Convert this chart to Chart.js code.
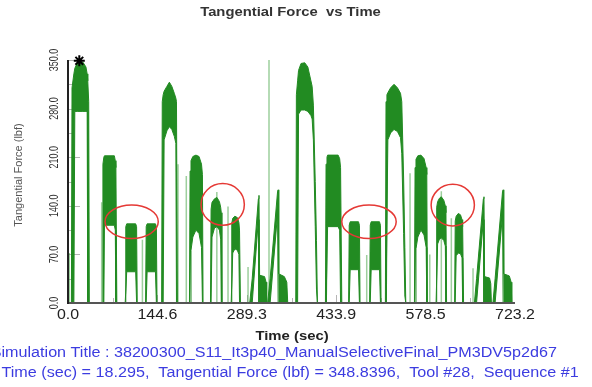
<!DOCTYPE html>
<html>
<head>
<meta charset="utf-8">
<script src="https://cdn.jsdelivr.net/npm/chart.js@4.4.1/dist/chart.umd.min.js"></script>
<style>
  html, body { margin: 0; padding: 0; background: #fff; }
  #wrap { width: 592px; height: 387px; position: relative; }
</style>
</head>
<body>
<div id="wrap"><canvas id="forceChart"></canvas></div>
<script>
// time (sec) of each envelope point, one line per burst
const sigTime = [
  0,
  5.5, 6.5, 9.5, 11, 15, 24, 29, 31, 32, 33.5, 34.5,
  55.5, 56.5, 58, 59, 75, 76.5, 77.5, 79,
  92.5, 93.5, 95, 109.5, 111, 112,
  125.5, 126.5, 128, 141.5, 143, 144,
  151.5, 152.5, 154, 155.5, 160, 164, 168, 172, 174.5, 175.5, 177,
  196.5, 197.5, 199, 202, 207, 212, 216, 217.5, 218.5,
  230.5, 231.5, 233, 237, 241, 245, 247, 248, 249,
  264, 265, 266.5, 270, 274, 276.5, 277.5, 279,
  294, 298, 308, 309, 310, 318, 320.5, 321.5,
  323, 327, 339, 340, 341, 350, 354, 355.5,
  368.5, 369.5, 371.5, 373, 377, 383, 388, 393, 395, 397, 400, 402, 403.5,
  416.5, 417.5, 419, 420, 437, 439.5, 441, 443,
  454, 455, 456.5, 470, 471.5, 472.5,
  488, 489, 490.5, 504, 505.5, 506.5,
  513.5, 514.5, 516, 517.5, 522, 527.5, 533, 538, 540, 543, 545, 546.5,
  560.5, 561.5, 563, 566, 571, 576, 579.5, 580.5, 581.5,
  595.5, 596.5, 598, 601, 604, 608, 610.5, 611.5, 612.5,
  625.5, 626.5, 628, 631.5, 635, 637.5, 638.5, 640,
  657.5, 661, 672, 673, 674, 682, 684, 685,
  687.5, 691, 703, 704, 705, 714, 717, 718
];
// upper envelope of tangential force (lbf)
const sigHigh = [
  0,
  0, 310, 330, 338, 346, 347, 340, 330, 320, 290, 0,
  0, 200, 210, 212, 212, 205, 195, 0,
  0, 110, 114, 114, 110, 0,
  0, 110, 114, 114, 110, 0,
  0, 290, 300, 305, 312, 318, 312, 302, 295, 290, 0,
  0, 190, 205, 211, 213, 211, 200, 185, 0,
  0, 135, 145, 150, 152, 146, 138, 130, 0,
  0, 115, 122, 125, 123, 116, 105, 0,
  0, 35, 150, 155, 40, 38, 30, 0,
  0, 35, 160, 163, 42, 38, 30, 0,
  0, 300, 320, 335, 345, 346, 340, 320, 312, 285, 175, 90, 0,
  0, 200, 210, 213, 213, 208, 195, 0,
  0, 112, 117, 117, 112, 0,
  0, 112, 117, 117, 112, 0,
  0, 290, 300, 303, 310, 315, 310, 302, 290, 180, 80, 0,
  0, 195, 207, 212, 213, 208, 195, 185, 0,
  0, 138, 146, 151, 153, 148, 140, 130, 0,
  0, 118, 125, 129, 127, 120, 110, 0,
  0, 35, 150, 153, 38, 36, 28, 0,
  0, 35, 160, 163, 42, 39, 30, 0
];
// lower envelope of tangential force (lbf)
const sigLow = [
  0,
  0, 0, 0, 276, 276, 276, 276, 276, 0, 0, 0,
  0, 0, 0, 112, 112, 105, 0, 0,
  0, 0, 45, 45, 0, 0,
  0, 0, 45, 45, 0, 0,
  0, 0, 0, 235, 248, 254, 250, 240, 230, 0, 0,
  0, 0, 76, 95, 105, 100, 80, 0, 0,
  0, 0, 95, 108, 110, 105, 92, 0, 0,
  0, 0, 72, 78, 76, 70, 0, 0,
  0, 0, 120, 0, 0, 0, 0, 0,
  0, 0, 128, 0, 0, 0, 0, 0,
  0, 0, 0, 272, 278, 278, 276, 270, 265, 235, 110, 20, 0,
  0, 0, 0, 110, 110, 105, 0, 0,
  0, 0, 48, 48, 0, 0,
  0, 0, 48, 48, 0, 0,
  0, 0, 0, 235, 245, 250, 247, 238, 215, 100, 10, 0,
  0, 0, 78, 95, 105, 98, 80, 0, 0,
  0, 0, 85, 92, 94, 90, 82, 0, 0,
  0, 0, 68, 72, 71, 65, 0, 0,
  0, 0, 120, 0, 0, 0, 0, 0,
  0, 0, 128, 0, 0, 0, 0, 0
];

// isolated faint spikes
const spikeTime = [2, 54.5, 120.4, 178, 191.4, 240.8, 258.9, 291.3, 325.2, 483.3, 553.4, 585.3, 604, 620.2, 655.3];
const spikeForce = [72, 145, 91, 200, 183, 160, 139, 52, 350, 69, 187, 70, 161, 122, 50];

// cursor marker
const markerTime = [18.295];
const markerForce = [348.8396];

// red highlight ellipses: centre and half sizes in data units
const ringTime = [103, 250.3, 487, 622.5];
const ringForce = [117, 142, 117, 141];
const ringHalfTime = [43, 35, 44, 35];
const ringHalfForce = [24, 30, 24, 30];

const xTickValues = [0, 144.6, 289.3, 433.9, 578.5, 723.2];
const xTickLabels = ['0.0', '144.6', '289.3', '433.9', '578.5', '723.2'];
const yTickValues = [0, 70, 140, 210, 280, 350];
const yTickLabels = ['0.0', '70.0', '140.0', '210.0', '280.0', '350.0'];

const chartTitle = 'Tangential Force  vs Time';
const xTitle = 'Time (sec)';
const yTitle = 'Tangential Force (lbf)';
const infoLine1 = 'Simulation Title : 38200300_S11_It3p40_ManualSelectiveFinal_PM3DV5p2d67';
const infoLine2 = 'Time (sec) = 18.295,  Tangential Force (lbf) = 348.8396,  Tool #28,  Sequence #1';

const green = 'rgb(34, 139, 34)';
const lightGreen = 'rgba(60, 160, 60, 0.5)';
const blue = '#3c3ce0';
const FONT = '"Liberation Sans", Arial, sans-serif';

const highPts = sigTime.map((t, i) => ({ x: t, y: sigHigh[i] }));
const lowPts = sigTime.map((t, i) => ({ x: t, y: sigLow[i] }));
const spikePts = [];
spikeTime.forEach((t, i) => {
  spikePts.push({ x: t, y: 0 }, { x: t, y: spikeForce[i] }, { x: t, y: null });
});

function putText(ctx, str, x, y, size, weight, color, align, sx, rot) {
  ctx.save();
  ctx.translate(x, y);
  if (rot) ctx.rotate(rot);
  ctx.scale(sx, 1);
  ctx.font = weight + ' ' + size + 'px ' + FONT;
  ctx.fillStyle = color;
  ctx.textAlign = align;
  ctx.textBaseline = 'middle';
  ctx.fillText(str, 0, 0);
  ctx.restore();
}

const decor = {
  id: 'decor',
  beforeDatasetsDraw(chart) {
    const { ctx, chartArea: a, scales: { x, y } } = chart;
    ctx.save();
    ctx.strokeStyle = '#b5b5b5';
    ctx.lineWidth = 1;
    // inner tick marks on the force axis
    for (let v = 35; v <= 350; v += 35) {
      const py = Math.round(y.getPixelForValue(v)) + 0.5;
      const len = v % 70 === 0 ? 12 : 6;
      ctx.beginPath();
      ctx.moveTo(a.left, py);
      ctx.lineTo(a.left + len, py);
      ctx.stroke();
    }
    // inner tick marks on the time axis
    for (let k = 1; k < 10; k++) {
      const px = Math.round(x.getPixelForValue(k * 723.2 / 10)) + 0.5;
      ctx.beginPath();
      ctx.moveTo(px, a.bottom);
      ctx.lineTo(px, a.bottom - (k % 2 === 0 ? 8 : 5));
      ctx.stroke();
    }
    ctx.restore();
  },
  afterDatasetsDraw(chart) {
    const { ctx, chartArea: a, scales: { x, y } } = chart;
    ctx.save();
    // red rings
    ctx.strokeStyle = '#e53935';
    ctx.lineWidth = 1.5;
    ringTime.forEach((t, i) => {
      const cx = x.getPixelForValue(t);
      const cy = y.getPixelForValue(ringForce[i]);
      const rx = x.getPixelForValue(t + ringHalfTime[i]) - cx;
      const ry = cy - y.getPixelForValue(ringForce[i] + ringHalfForce[i]);
      ctx.beginPath();
      ctx.ellipse(cx, cy, rx, ry, 0, 0, Math.PI * 2);
      ctx.stroke();
    });
    // axis lines
    ctx.lineWidth = 2;
    ctx.strokeStyle = '#555';
    ctx.beginPath();
    ctx.moveTo(a.left, a.bottom);
    ctx.lineTo(a.right, a.bottom);
    ctx.stroke();
    ctx.strokeStyle = '#222';
    ctx.beginPath();
    ctx.moveTo(a.left, a.top);
    ctx.lineTo(a.left, a.bottom + 1);
    ctx.stroke();
    ctx.restore();
  },
  afterDraw(chart) {
    const { ctx, scales: { x, y } } = chart;
    putText(ctx, chartTitle, 290.5, 12, 13, 'bold', '#333', 'center', 1.14);
    xTickValues.forEach((v, i) => {
      putText(ctx, xTickLabels[i], x.getPixelForValue(v), 315, 14, 'normal', '#222', 'center', 1.14);
    });
    yTickValues.forEach((v, i) => {
      putText(ctx, yTickLabels[i], 55, y.getPixelForValue(v), 12.5, 'normal', '#333', 'center', 0.72, -Math.PI / 2);
    });
    putText(ctx, yTitle, 18.5, 175, 11, 'normal', '#555', 'center', 1, -Math.PI / 2);
    putText(ctx, xTitle, 292, 337, 12.6, 'bold', '#222', 'center', 1.18);
    ctx.save();
    ctx.font = 'normal 13.8px ' + FONT;
    const cut = ctx.measureText('S').width * 1.17;
    ctx.restore();
    putText(ctx, infoLine1, 1.5 - cut, 353, 13.8, 'normal', blue, 'left', 1.17);
    putText(ctx, infoLine2, 1.5, 373, 13.8, 'normal', blue, 'left', 1.17);
  }
};

const ctx = document.getElementById('forceChart').getContext('2d');

new Chart(ctx, {
  type: 'line',
  data: {
    datasets: [
      {
        label: 'cursor',
        data: markerTime.map((t, i) => ({ x: t, y: markerForce[i] })),
        showLine: false,
        pointStyle: 'star',
        pointRadius: 5.5,
        borderColor: '#000',
        borderWidth: 2,
        clip: false
      },
      {
        label: 'upper',
        data: highPts,
        borderColor: green,
        backgroundColor: green,
        borderWidth: 1,
        pointRadius: 0,
        tension: 0,
        fill: '+1'
      },
      {
        label: 'lower',
        data: lowPts,
        borderColor: green,
        borderWidth: 1,
        pointRadius: 0,
        tension: 0,
        fill: false
      },
      {
        label: 'spikes',
        data: spikePts,
        borderColor: lightGreen,
        borderWidth: 1.5,
        pointRadius: 0,
        spanGaps: false,
        fill: false
      }
    ]
  },
  options: {
    responsive: true,
    maintainAspectRatio: false,
    animation: false,
    devicePixelRatio: 1,
    layout: {
      padding: { left: 68, right: 77, top: 60, bottom: 84 }
    },
    scales: {
      x: { type: 'linear', display: false, min: 0, max: 723.2 },
      y: { type: 'linear', display: false, min: 0, max: 350 }
    },
    plugins: {
      legend: { display: false },
      tooltip: { enabled: false }
    }
  },
  plugins: [decor]
});
</script>
</body>
</html>
